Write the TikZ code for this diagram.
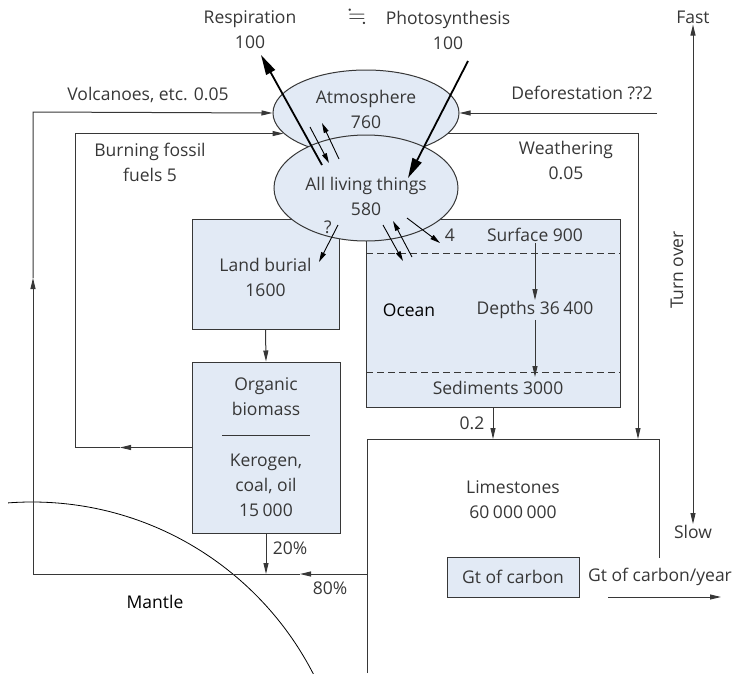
\documentclass[tikz,border=0pt]{standalone}
\usepackage{amssymb}
\usepackage{fontspec}
\setmainfont{Open Sans}
\usetikzlibrary{arrows.meta,shapes.geometric}
\definecolor{boxfill}{RGB}{226,234,245}
\definecolor{ink}{RGB}{55,55,55}
\newcommand{\gap}{\hspace{0.2em}}
\tikzset{
  lbl/.style={text=ink,align=center,inner sep=1pt,font=\fontsize{17.5}{25}\selectfont},
  pool/.style={draw=ink,fill=boxfill,line width=1pt,inner sep=0pt},
  wire/.style={draw=ink,line width=1pt},
  flow/.style={wire,-{Triangle[length=11pt,width=5pt]}},
  swap/.style={draw=black,line width=0.9pt,-{Triangle[length=10pt,width=5pt]}},
  bigflow/.style={draw=black,line width=1.8pt,-{Triangle[length=20pt,width=10pt]}}
}
\begin{document}
\begin{tikzpicture}[x=1pt,y=-1pt]
\useasboundingbox (0,0) rectangle (740,673);
% mantle
\begin{scope}
\clip (8,0) rectangle (740,673);
\draw[black,line width=0.8pt] (32,818) circle[radius=316pt];
\end{scope}
\node[lbl,text=black] (mantle) at (155,602) {Mantle};
% reservoirs
\node[pool,ellipse,minimum width=186pt,minimum height=86pt] (atm) at (366,113) {};
\node[lbl] (atmtxt) at (366,109) {Atmosphere\\760};
\node[pool,minimum width=147pt,minimum height=110pt] (land) at (265.5,274) {};
\node[lbl] (landtxt) at (265.5,277) {Land burial\\1600};
\node[pool,minimum width=254pt,minimum height=188pt] (ocean) at (493,313) {};
\node[pool,ellipse,minimum width=184pt,minimum height=106pt] (liv) at (366,188) {};
\node[lbl] (livtxt) at (366,196) {All living things\\580};
\node[pool,minimum width=148pt,minimum height=171pt] (org) at (266,447.5) {};
\node[lbl] (orgtop) at (266,397) {Organic\\biomass};
\node[lbl] (orgbot) at (266,485) {Kerogen,\\coal, oil\\15\gap000};
\draw[wire] (222,435) -- (310,435);
% ocean layers
\draw[wire,dash pattern=on 7pt off 4pt] (366,253) -- (620,253);
\draw[wire,dash pattern=on 7pt off 4pt] (366,372) -- (620,372);
\node[lbl] (surf) at (535,235) {Surface 900};
\node[lbl,text=black] (oceantxt) at (409,310) {Ocean};
\node[lbl] (depth) at (535,310) {Depths 36\gap400};
\node[lbl] (sed) at (498,388) {Sediments 3000};
\coordinate (sedtop) at (535,377);
\draw[flow] (surf.south) -- (depth.north);
\draw[flow] (depth.south) -- (sedtop);
% limestones
\coordinate (limA) at (367,673);
\coordinate (limB) at (367,439);
\coordinate (limC) at (659,439);
\coordinate (limD) at (659,558);
\draw[wire] (limA) -- (limB) -- (limC) -- (limD);
\node[lbl] (lime) at (513,500) {Limestones\\60\gap000\gap000};
\node[pool,lbl,minimum width=132pt,minimum height=40pt] (gt) at (513,577) {Gt of carbon};
\node[lbl,anchor=west] (gty) at (587,577) {Gt of carbon/year};
\coordinate (keyA) at (608,597);
\coordinate (keyB) at (721,597);
\draw[flow] (keyA) -- (keyB);
\coordinate (sedlim) at (493,439);
\draw[flow] (sedlim |- ocean.south) -- (sedlim);
\node[lbl] (f02) at (472,423) {0.2};
% volcanoes
\coordinate (v0) at (367,574);
\coordinate (v1) at (300,574);
\coordinate (v2) at (33,574);
\coordinate (v3) at (33,278);
\coordinate (v4) at (33,112);
\draw[flow] (v0) -- (v1);
\draw[wire] (v1) -- (v2);
\draw[flow] (v2) -- (v3);
\draw[flow] (v3) -- (v4) -- (atm.west);
\node[lbl] (volc) at (148,95) {Volcanoes, etc. 0.05};
\node[lbl] (p80) at (330,588) {80\%};
\draw[flow] (org.south) -- (org.south |- v0);
\node[lbl] (p20) at (290,548) {20\%};
\draw[flow] (land.south) -- (org.north);
% fossil fuels
\coordinate (b1) at (120,447.5);
\coordinate (b2) at (75,447.5);
\draw[flow] (org.west) -- (b1);
\draw[flow] (b1) -- (b2) |- (atm.194);
\node[lbl] (fossil) at (150,162) {Burning fossil\\fuels 5};
% deforestation and weathering
\coordinate (d0) at (657,113);
\draw[flow] (d0) -- (atm.east);
\node[lbl] (defo) at (582,93) {Deforestation ??2};
\coordinate (w1) at (638,439);
\draw[flow] (atm.-14) -| (w1);
\node[lbl] (weath) at (566,160) {Weathering\\0.05};
% respiration / photosynthesis
\node[lbl] (resp) at (250,30) {Respiration\\100};
\node[lbl] (photo) at (448,30) {Photosynthesis\\100};
\node[lbl,scale=1.3] (eq) at (357,17) {$\fallingdotseq$};
\coordinate (r0) at (322,165);
\coordinate (r1) at (261,55);
\coordinate (s0) at (468,61);
\coordinate (s1) at (408,178);
\draw[bigflow] (r0) -- (r1);
\draw[bigflow] (s0) -- (s1);
% exchanges
\coordinate (x1) at (310,127);
\coordinate (x2) at (329,163);
\coordinate (x3) at (339,159);
\coordinate (x4) at (322,123);
\draw[swap] (x1) -- (x2);
\draw[swap] (x3) -- (x4);
\coordinate (o1) at (383,225);
\coordinate (o2) at (403,261);
\coordinate (o3) at (412,257);
\coordinate (o4) at (393,221);
\draw[swap] (o1) -- (o2);
\draw[swap] (o3) -- (o4);
\coordinate (u1) at (407,218);
\coordinate (u2) at (440,243);
\draw[swap] (u1) -- (u2);
\node[lbl] (f4) at (450,235) {4};
\coordinate (q1) at (338,225);
\coordinate (q2) at (319,262);
\draw[swap] (q1) -- (q2);
\node[lbl] (fq) at (328,227) {?};
% turn over scale
\node[lbl] (fast) at (693,17) {Fast};
\node[lbl] (slow) at (693,532) {Slow};
\draw[wire,{Triangle[length=11pt,width=5pt]}-{Triangle[length=11pt,width=5pt]}] (fast.south) -- (slow.north);
\node[lbl,rotate=90] (turn) at (677,270) {Turn over};
\end{tikzpicture}
\end{document}
